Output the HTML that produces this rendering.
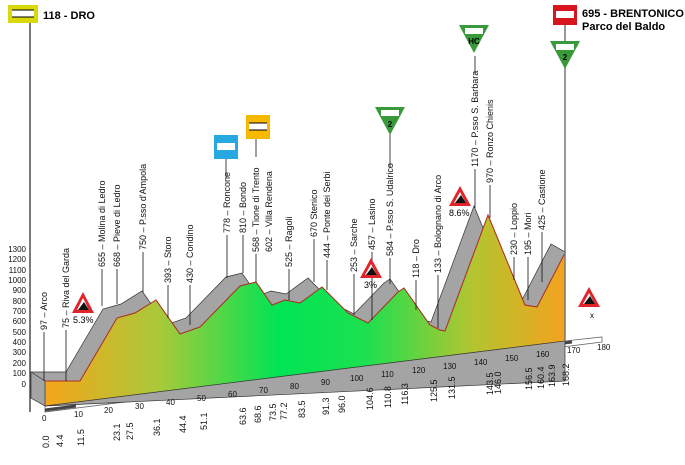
<!DOCTYPE html>
<html><head><meta charset="utf-8"><style>
html,body{margin:0;padding:0;background:#fff;width:685px;height:465px;overflow:hidden}
svg{display:block}
text{font-family:"Liberation Sans",sans-serif}
.v{font-size:9px;fill:#111}
.y{font-size:8px;fill:#111}
</style></head><body>
<svg width="685" height="465" viewBox="0 0 685 465" xmlns="http://www.w3.org/2000/svg">
<defs>
<linearGradient id="g" x1="0" y1="0" x2="1" y2="0">
<stop offset="0" stop-color="#f6a51a"/>
<stop offset="0.22" stop-color="#a9c93a"/>
<stop offset="0.45" stop-color="#00e454"/>
<stop offset="0.62" stop-color="#1ee050"/>
<stop offset="0.82" stop-color="#b2c530"/>
<stop offset="1" stop-color="#f3a21e"/>
</linearGradient>
</defs>
<line x1="30" y1="20" x2="30" y2="412" stroke="#222" stroke-width="1.2"/>
<g class="y" text-anchor="end">
<text x="26" y="387">0</text><text x="26" y="376">100</text><text x="26" y="366">200</text><text x="26" y="355">300</text><text x="26" y="345">400</text><text x="26" y="335">500</text><text x="26" y="324">600</text><text x="26" y="314">700</text><text x="26" y="304">800</text><text x="26" y="293">900</text><text x="26" y="283">1000</text><text x="26" y="273">1100</text><text x="26" y="262">1200</text><text x="26" y="252">1300</text>
</g>
<polygon points="45,406 565,341 602,337 602,342 45,412" fill="#fff" stroke="#666" stroke-width="0.8"/>
<g stroke="#444" stroke-width="3">
<line x1="45" y1="410" x2="76" y2="406"/><line x1="107" y1="402" x2="138" y2="398"/><line x1="169" y1="394" x2="200" y2="390"/><line x1="231" y1="386" x2="262" y2="382"/><line x1="293" y1="378" x2="324" y2="374"/><line x1="355" y1="370" x2="386" y2="366"/><line x1="417" y1="362" x2="448" y2="358"/><line x1="479" y1="354" x2="510" y2="350"/><line x1="541" y1="346" x2="572" y2="342"/>
</g>
<polygon points="31,372 66,372 103,309 121,304 142,291 166,325 186,318 226,277 242,273 258,296 271,291 286,294 308,278 334,304 354,314 384,283 390,279 416,316 426,321 431,322 474,206 511,296 523,298 551,244 565,252 565,381 45,406 31,398" fill="#a4a4a4" stroke="#333" stroke-width="0.7"/>
<polygon points="45,381 80,381 117,318 135,313 156,300 180,334 200,327 240,286 256,282 272,305 285,300 300,303 322,287 348,313 368,323 398,292 404,288 430,325 440,330 445,331 488,215 525,305 537,307 565,253 565,341 45,406" fill="url(#g)" stroke="#333" stroke-width="0.7"/>
<polyline points="45,381 80,381 117,318 135,313 156,300 180,334 200,327 240,286 256,282 272,305 285,300 300,303 322,287 348,313 368,323 398,292 404,288 430,325 440,330 445,331 488,215 525,305 537,307 565,253" fill="none" stroke="#b03020" stroke-width="1"/>
<line x1="31" y1="372" x2="45" y2="381" stroke="#333" stroke-width="0.7"/>
<line x1="565" y1="25" x2="565" y2="341" stroke="#777" stroke-width="1.5"/>
<g class="v">
<text transform="translate(47,330) rotate(-90)">97 – Arco</text>
<text transform="translate(69,328) rotate(-90)">75 – Riva del Garda</text>
<text transform="translate(105,267) rotate(-90)">655 – Molina di Ledro</text>
<text transform="translate(120,267) rotate(-90)">668 – Pieve di Ledro</text>
<text transform="translate(146,250) rotate(-90)">750 – P.sso d'Ampola</text>
<text transform="translate(171,283) rotate(-90)">393 – Storo</text>
<text transform="translate(193,283) rotate(-90)">430 – Condino</text>
<text transform="translate(230,233) rotate(-90)">778 – Roncone</text>
<text transform="translate(246,233) rotate(-90)">810 – Bondo</text>
<text transform="translate(259,252) rotate(-90)">568 – Tione di Trento</text>
<text transform="translate(272,252) rotate(-90)">602 – Villa Rendena</text>
<text transform="translate(292,267) rotate(-90)">525 – Ragoli</text>
<text transform="translate(317,237) rotate(-90)">670 Stenico</text>
<text transform="translate(330,258) rotate(-90)">444 – Ponte dei Serbi</text>
<text transform="translate(357,272) rotate(-90)">253 – Sarche</text>
<text transform="translate(375,250) rotate(-90)">457 – Lasino</text>
<text transform="translate(393,256) rotate(-90)">584 – P.sso S. Udalrico</text>
<text transform="translate(419,278) rotate(-90)">118 – Dro</text>
<text transform="translate(441,273) rotate(-90)">133 – Bolognano di Arco</text>
<text transform="translate(478,167) rotate(-90)">1170 – P.sso S. Barbara</text>
<text transform="translate(493,183) rotate(-90)">970 – Ronzo Chienis</text>
<text transform="translate(517,255) rotate(-90)">230 – Loppio</text>
<text transform="translate(531,255) rotate(-90)">195 – Mori</text>
<text transform="translate(545,230) rotate(-90)">425 – Castione</text>
</g>
<g stroke="#111" stroke-width="0.8">
<line x1="44" y1="332" x2="44" y2="381"/><line x1="66" y1="330" x2="66" y2="381"/><line x1="102" y1="269" x2="102" y2="306"/><line x1="117" y1="269" x2="117" y2="304"/><line x1="143" y1="252" x2="143" y2="292"/><line x1="168" y1="285" x2="168" y2="318"/><line x1="190" y1="285" x2="190" y2="325"/><line x1="227" y1="235" x2="227" y2="278"/><line x1="243" y1="235" x2="243" y2="273"/><line x1="256" y1="254" x2="256" y2="282"/><line x1="289" y1="269" x2="289" y2="300"/><line x1="314" y1="239" x2="314" y2="282"/><line x1="327" y1="260" x2="327" y2="290"/><line x1="354" y1="274" x2="354" y2="315"/><line x1="372" y1="252" x2="372" y2="320"/><line x1="390" y1="258" x2="390" y2="284"/><line x1="416" y1="280" x2="416" y2="310"/><line x1="438" y1="275" x2="438" y2="328"/><line x1="475" y1="169" x2="475" y2="208"/><line x1="490" y1="185" x2="490" y2="218"/><line x1="514" y1="257" x2="514" y2="280"/><line x1="528" y1="257" x2="528" y2="300"/><line x1="542" y1="232" x2="542" y2="282"/>
<line x1="226" y1="158" x2="226" y2="178"/><line x1="256" y1="137" x2="256" y2="157"/><line x1="390" y1="134" x2="390" y2="168"/><line x1="475" y1="56" x2="475" y2="74"/>
</g>
<g class="v">
<text transform="translate(49,448) rotate(-90)">0.0</text>
<text transform="translate(63,447) rotate(-90)">4.4</text>
<text transform="translate(84,446) rotate(-90)">11.5</text>
<text transform="translate(120,441) rotate(-90)">23.1</text>
<text transform="translate(133,440) rotate(-90)">27.5</text>
<text transform="translate(160,436) rotate(-90)">36.1</text>
<text transform="translate(186,433) rotate(-90)">44.4</text>
<text transform="translate(207,430) rotate(-90)">51.1</text>
<text transform="translate(246,425) rotate(-90)">63.6</text>
<text transform="translate(261,423) rotate(-90)">68.6</text>
<text transform="translate(276,421) rotate(-90)">73.5</text>
<text transform="translate(287,420) rotate(-90)">77.2</text>
<text transform="translate(305,418) rotate(-90)">83.5</text>
<text transform="translate(329,415) rotate(-90)">91.3</text>
<text transform="translate(345,413) rotate(-90)">96.0</text>
<text transform="translate(373,410) rotate(-90)">104.6</text>
<text transform="translate(391,408) rotate(-90)">110.8</text>
<text transform="translate(408,405) rotate(-90)">116.3</text>
<text transform="translate(437,402) rotate(-90)">125.5</text>
<text transform="translate(455,399) rotate(-90)">131.5</text>
<text transform="translate(493,395) rotate(-90)">143.5</text>
<text transform="translate(501,394) rotate(-90)">146.0</text>
<text transform="translate(532,390) rotate(-90)">156.5</text>
<text transform="translate(544,389) rotate(-90)">160.4</text>
<text transform="translate(555,387) rotate(-90)">163.9</text>
<text transform="translate(569,386) rotate(-90)">168.2</text>
</g>
<g style="font-size:8px" fill="#111">
<text x="42" y="421">0</text><text x="74" y="417">10</text><text x="104" y="413">20</text><text x="135" y="409">30</text><text x="166" y="405">40</text><text x="197" y="401">50</text><text x="228" y="397">60</text><text x="259" y="393">70</text><text x="290" y="389">80</text><text x="321" y="385">90</text><text x="350" y="381">100</text><text x="381" y="377">110</text><text x="412" y="373">120</text><text x="443" y="369">130</text><text x="474" y="365">140</text><text x="505" y="361">150</text><text x="536" y="357">160</text><text x="567" y="353">170</text><text x="597" y="350">180</text>
</g>
<g>
<polygon points="83,292 72,313 94,313" fill="#e3232a"/><polygon points="83,298 77,310 89,310" fill="#fff"/><polygon points="78,310 84,302 89,310" fill="#111"/>
<text x="73" y="323" style="font-size:9px">5.3%</text>
<polygon points="371,258 360,278 382,278" fill="#e3232a"/><polygon points="371,264 365,275 377,275" fill="#fff"/><polygon points="366,275 372,267 377,275" fill="#111"/>
<text x="364" y="288" style="font-size:9px">3%</text>
<polygon points="460,186 449,206 471,206" fill="#e3232a"/><polygon points="460,192 454,203 466,203" fill="#fff"/><polygon points="455,203 461,195 466,203" fill="#111"/>
<text x="449" y="216" style="font-size:9px">8.6%</text>
<polygon points="589,287 578,307 600,307" fill="#e3232a"/><polygon points="589,293 583,304 595,304" fill="#fff"/><polygon points="584,304 590,296 595,304" fill="#111"/>
<text x="590" y="318" style="font-size:8px">x</text>
</g>
<rect x="8" y="5" width="30" height="18" fill="#d8d80a"/><rect x="12" y="10" width="22" height="7" fill="#fff"/><line x1="12" y1="10" x2="34" y2="10" stroke="#000"/><line x1="12" y1="17" x2="34" y2="17" stroke="#000"/>
<text x="43" y="19" style="font-size:11px;font-weight:bold">118 - DRO</text>
<rect x="553" y="5" width="24" height="20" fill="#d8141e"/><rect x="556" y="11" width="18" height="7" fill="#fff"/>
<text x="582" y="17" style="font-size:11px;font-weight:bold">695 - BRENTONICO</text>
<text x="582" y="30" style="font-size:11px;font-weight:bold">Parco del Baldo</text>
<rect x="214" y="135" width="24" height="24" fill="#28a8e0"/><rect x="217" y="143" width="18" height="7" fill="#fff"/>
<rect x="246" y="115" width="24" height="24" fill="#f7b800"/><rect x="249" y="123" width="18" height="7" fill="#fff"/><line x1="249" y1="123" x2="267" y2="123" stroke="#000"/><line x1="249" y1="130" x2="267" y2="130" stroke="#000"/>
<g>
<polygon points="375,107 405,107 390,135" fill="#3a9a3a"/><rect x="381" y="110" width="18" height="6" fill="#fff"/><text x="390" y="127" text-anchor="middle" style="font-size:8px;font-weight:bold">2</text>
<polygon points="459,25 489,25 474,53" fill="#3a9a3a"/><rect x="465" y="28" width="18" height="6" fill="#fff"/><text x="474" y="44" text-anchor="middle" style="font-size:8px;font-weight:bold">HC</text>
<polygon points="550,41 580,41 565,69" fill="#3a9a3a"/><rect x="556" y="44" width="18" height="6" fill="#fff"/><text x="565" y="60" text-anchor="middle" style="font-size:8px;font-weight:bold">2</text>
</g>
</svg>
</body></html>
